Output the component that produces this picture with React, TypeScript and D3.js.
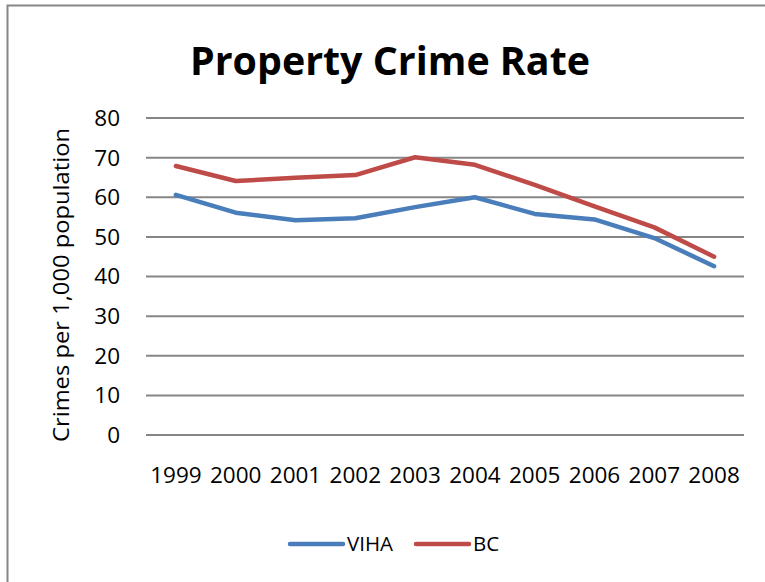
import React from "react";
import * as d3 from "d3";

const years = ["1999", "2000", "2001", "2002", "2003", "2004", "2005", "2006", "2007", "2008"];
const viha = [60.6, 56.1, 54.2, 54.7, 57.5, 60.0, 55.8, 54.4, 49.7, 42.6];
const bc = [67.9, 64.1, 64.9, 65.6, 70.1, 68.2, 63.1, 57.7, 52.4, 45.0];
const yTicks = [0, 10, 20, 30, 40, 50, 60, 70, 80];
const seriesNames = ["VIHA", "BC"];
const seriesColors = ["#4A7EBB", "#BE4B48"];

const W = 765;
const H = 582;
const left = 146;
const right = 744;
const top = 118;
const bottom = 435;
const FONT = "'Open Sans', sans-serif";

export default function App() {
  const x = d3.scaleBand<string>().domain(years).range([left, right]);
  const y = d3.scaleLinear().domain([0, 80]).range([bottom, top]);
  const line = d3
    .line<number>()
    .x((_, i) => (x(years[i]) as number) + x.bandwidth() / 2)
    .y((d) => y(d));
  const data = [viha, bc];

  return (
    <svg
      width={W}
      height={H}
      style={{ position: "absolute", left: 0, top: 0, background: "#fff" }}
    >
      <rect x={0} y={0} width={W} height={H} fill="#fff" />
      <rect x={7.5} y={5.5} width={W + 20} height={H + 20} fill="none" stroke="#868686" strokeWidth={2} />
      <text
        x={390}
        y={75}
        textAnchor="middle"
        fontFamily={FONT}
        fontWeight="bold"
        fontSize={39}
        textLength={400}
        lengthAdjust="spacingAndGlyphs"
        fill="#000"
      >
        Property Crime Rate
      </text>
      {yTicks.map((t) => (
        <g key={t}>
          <line x1={left} x2={right} y1={y(t)} y2={y(t)} stroke="#868686" strokeWidth={2} />
          <text
            x={120}
            y={y(t)}
            dy="0.35em"
            textAnchor="end"
            fontFamily={FONT}
            fontSize={22.5}
            fill="#000"
          >
            {t}
          </text>
        </g>
      ))}
      {years.map((yr) => (
        <text
          key={yr}
          x={(x(yr) as number) + x.bandwidth() / 2}
          y={483}
          textAnchor="middle"
          fontFamily={FONT}
          fontSize={22.5}
          fill="#000"
        >
          {yr}
        </text>
      ))}
      <text
        transform={`translate(69,${285}) rotate(-90)`}
        textAnchor="middle"
        fontFamily={FONT}
        fontSize={22}
        textLength={314}
        lengthAdjust="spacingAndGlyphs"
        fill="#000"
      >
        Crimes per 1,000 population
      </text>
      {data.map((d, i) => (
        <path
          key={i}
          d={line(d) as string}
          fill="none"
          stroke={seriesColors[i]}
          strokeWidth={4.5}
          strokeLinecap="round"
          strokeLinejoin="round"
        />
      ))}
      {seriesNames.map((name, i) => {
        const lx = i === 0 ? 290 : 416;
        return (
          <g key={name}>
            <line
              x1={lx}
              x2={lx + 53}
              y1={544}
              y2={544}
              stroke={seriesColors[i]}
              strokeWidth={4.5}
              strokeLinecap="round"
            />
            <text
              x={lx + 57}
              y={544}
              dy="0.35em"
              fontFamily={FONT}
              fontSize={20.5}
              fill="#000"
            >
              {name}
            </text>
          </g>
        );
      })}
    </svg>
  );
}
